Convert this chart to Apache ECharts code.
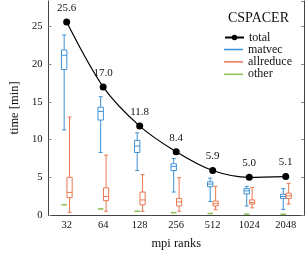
<!DOCTYPE html>
<html><head><meta charset="utf-8">
<script src="https://cdn.jsdelivr.net/npm/echarts@6/dist/echarts.min.js"></script>
<style>html,body{margin:0;padding:0;background:#fff}#c{width:305px;height:255px}</style>
</head><body><div id="c"></div>
<script>
const ranks = ['32','64','128','256','512','1024','2048'];
const total = [25.6, 17.0, 11.8, 8.4, 5.9, 5.0, 5.1];
// [low, q1, median, q3, high]
const matvec = [
  [11.3, 19.3, 21.2, 21.9, 23.9],
  [8.3, 12.6, 13.75, 14.3, 15.7],
  [5.9, 8.3, 9.15, 9.9, 10.9],
  [3.05, 5.9, 6.45, 6.8, 7.5],
  [1.8, 3.75, 4.1, 4.4, 4.9],
  [1.2, 2.8, 3.2, 3.5, 3.8],
  [0.75, 2.2, 2.45, 2.75, 3.5]
];
const allreduce = [
  [0.35, 2.3, 3.0, 5.0, 13.0],
  [0.5, 1.9, 2.45, 3.6, 7.95],
  [0.5, 1.35, 2.0, 3.05, 5.35],
  [0.5, 1.2, 1.75, 2.2, 4.95],
  [0.7, 1.2, 1.5, 1.85, 3.8],
  [0.95, 1.45, 1.65, 2.0, 3.65],
  [1.45, 2.2, 2.55, 2.9, 4.2]
];
const other = [1.35, 0.8, 0.5, 0.3, 0.2, 0.1, 0.1];
const yTicks = [0, 5, 10, 15, 20, 25];

const FONT = 'Liberation Serif';
const C_MATVEC = '#3d90d6', C_ALL = '#ea7850', C_OTHER = '#8fc15a';

function boxRender(offset, halfW, capW, color) {
  return function (params, api) {
    const i = api.value(0);
    const x = api.coord([i, 0])[0] + offset;
    const y = k => api.coord([i, api.value(k)])[1];
    const yl = y(1), y1 = y(2), ym = y(3), y3 = y(4), yh = y(5);
    const st = { stroke: color, lineWidth: 1, fill: null };
    const ch = [];
    if (yh !== yl) {
      ch.push({ type: 'line', shape: { x1: x, y1: yh, x2: x, y2: y3 }, style: st });
      ch.push({ type: 'line', shape: { x1: x, y1: y1, x2: x, y2: yl }, style: st });
      ch.push({ type: 'line', shape: { x1: x - capW, y1: yh, x2: x + capW, y2: yh }, style: st });
      ch.push({ type: 'line', shape: { x1: x - capW, y1: yl, x2: x + capW, y2: yl }, style: st });
      ch.push({ type: 'rect', shape: { x: x - halfW, y: y3, width: 2 * halfW, height: y1 - y3 }, style: { stroke: color, lineWidth: 1, fill: '#fff' } });
      ch.push({ type: 'line', shape: { x1: x - halfW, y1: ym, x2: x + halfW, y2: ym }, style: st });
    } else {
      ch.push({ type: 'line', shape: { x1: x - halfW, y1: ym, x2: x + halfW, y2: ym }, style: { stroke: color, lineWidth: 1.6 } });
    }
    return { type: 'group', children: ch };
  };
}
const toData = arr => arr.map((s, i) => [i].concat(s));

const chart = echarts.init(document.getElementById('c'), null, { renderer: 'canvas' });
const axisLineStyle = { color: '#444', width: 1 };
const tickStyle = { color: '#888', width: 1 };
chart.setOption({
  animation: false,
  textStyle: { fontFamily: FONT },
  title: { text: 'CSPACER', left: 228, top: 11, padding: 0,
    textStyle: { fontFamily: FONT, fontSize: 14, fontWeight: 'normal', color: '#111' } },
  legend: [
    { data: ['total'], left: 224, top: 31.5, padding: 0, itemWidth: 19, itemHeight: 7,
      textStyle: { fontFamily: FONT, fontSize: 12, lineHeight: 12, color: '#111' } },
    { data: ['matvec', 'allreduce', 'other'], orient: 'vertical', left: 224, top: 43.5, padding: 0,
      itemWidth: 19, itemHeight: 1.5, icon: 'rect', itemGap: 0.4,
      textStyle: { fontFamily: FONT, fontSize: 12, lineHeight: 12, color: '#111' } }
  ],
  grid: { left: 42, right: 1, top: 1, bottom: 36.3, containLabel: false },
  xAxis: [
    { type: 'category', data: ranks, boundaryGap: true, position: 'bottom',
      name: 'mpi ranks', nameLocation: 'middle', nameGap: 22,
      nameTextStyle: { fontFamily: FONT, fontSize: 12.5, color: '#111' },
      axisLine: { lineStyle: axisLineStyle },
      axisTick: { inside: true, alignWithLabel: true, length: 3, lineStyle: tickStyle },
      axisLabel: { margin: 5, fontFamily: FONT, fontSize: 10.5, color: '#111' },
      splitLine: { show: false } },
    { type: 'category', data: ranks, boundaryGap: true, position: 'top',
      axisLine: { lineStyle: axisLineStyle },
      axisTick: { inside: true, alignWithLabel: true, length: 3, lineStyle: tickStyle },
      axisLabel: { show: false }, splitLine: { show: false } }
  ],
  yAxis: [
    { type: 'value', min: 0, max: 28.4, interval: 5, position: 'left',
      name: 'time [min]', nameLocation: 'middle', nameGap: 27, nameRotate: 90,
      nameTextStyle: { fontFamily: FONT, fontSize: 12.5, color: '#111' },
      axisLine: { show: true, lineStyle: axisLineStyle },
      axisTick: { show: true, inside: true, length: 3, lineStyle: tickStyle },
      axisLabel: { margin: 6, fontFamily: FONT, fontSize: 10.5, color: '#111', showMaxLabel: false,
        formatter: v => (yTicks.indexOf(v) >= 0 ? String(v) : '') },
      splitLine: { show: false } },
    { type: 'value', min: 0, max: 28.4, interval: 5, position: 'right',
      axisLine: { show: true, lineStyle: axisLineStyle },
      axisTick: { show: true, inside: true, length: 3, lineStyle: tickStyle },
      axisLabel: { show: false }, splitLine: { show: false } }
  ],
  series: [
    { name: 'matvec', type: 'custom', xAxisIndex: 0, yAxisIndex: 0,
      itemStyle: { color: C_MATVEC }, encode: { x: 0, y: [1, 2, 3, 4, 5] },
      renderItem: boxRender(-2.5, 2.7, 2, C_MATVEC), data: toData(matvec), z: 2 },
    { name: 'allreduce', type: 'custom', xAxisIndex: 0, yAxisIndex: 0,
      itemStyle: { color: C_ALL }, encode: { x: 0, y: [1, 2, 3, 4, 5] },
      renderItem: boxRender(2.9, 2.6, 2, C_ALL), data: toData(allreduce), z: 2 },
    { name: 'other', type: 'custom', xAxisIndex: 0, yAxisIndex: 0,
      itemStyle: { color: C_OTHER }, encode: { x: 0, y: [1, 2, 3, 4, 5] },
      renderItem: boxRender(-2.5, 2.7, 2, C_OTHER), data: toData(other.map(v => [v, v, v, v, v])), z: 2 },
    { name: 'total', type: 'line', xAxisIndex: 0, yAxisIndex: 0, data: total, smooth: 0.3,
      symbol: 'circle', symbolSize: 7, z: 5,
      lineStyle: { color: '#000', width: 1.2 }, itemStyle: { color: '#000' },
      label: { show: true, position: 'top', distance: 5, fontFamily: FONT, fontSize: 11, color: '#111',
        formatter: p => p.value.toFixed(1) } }
  ]
});
</script></body></html>
